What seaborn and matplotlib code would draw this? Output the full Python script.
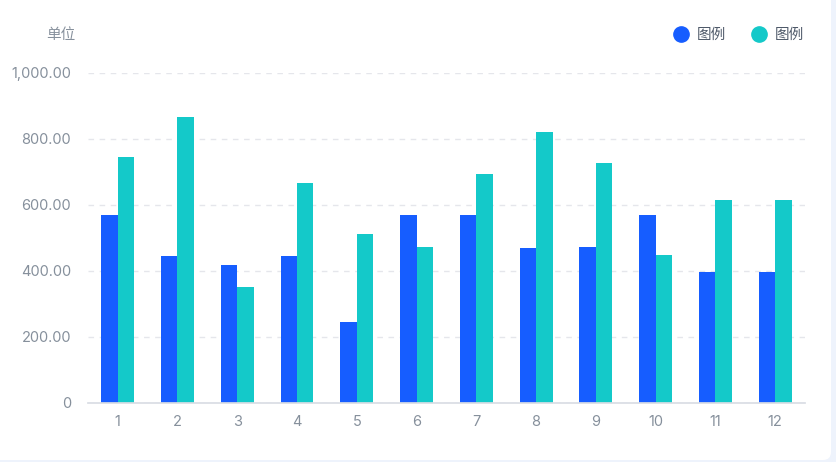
import pandas as pd
import seaborn as sns
import matplotlib.pyplot as plt
from matplotlib.lines import Line2D
from matplotlib.patches import FancyBboxPatch
from matplotlib.ticker import FuncFormatter

# Data
months = [str(i) for i in range(1, 13)]
series_a = [570, 445, 418, 445, 245, 570, 570, 468, 472, 570, 398, 398]
series_b = [745, 866, 350, 668, 512, 471, 694, 820, 726, 447, 616, 616]
legend_labels = ["图例", "图例"]
unit_label = "单位"

df = pd.DataFrame({
    "month": months * 2,
    "value": series_a + series_b,
    "series": ["a"] * 12 + ["b"] * 12,
})

sns.set_theme(style="white")
plt.rcParams["font.family"] = ["Inter", "Noto Sans CJK SC", "DejaVu Sans"]

blue = "#165DFF"
teal = "#14C9C9"
grey = "#86909C"

fig = plt.figure(figsize=(8.36, 4.62), dpi=100)
fig.patch.set_facecolor("#EEF3FC")
# white card behind the chart
card = FancyBboxPatch((-20, 2), 851, 480, boxstyle="round,pad=0,rounding_size=8",
                      transform=None, facecolor="white", edgecolor="none", zorder=-5)
fig.patches.append(card)

ax = fig.add_axes([0.105, 0.128, 0.858, 0.714])
ax.set_facecolor("none")
sns.barplot(data=df, x="month", y="value", hue="series", palette=[blue, teal],
            width=0.55, gap=0, saturation=1, linewidth=0, ax=ax, legend=False)

ax.set_ylim(0, 1000)
ax.set_yticks([0, 200, 400, 600, 800, 1000])
ax.yaxis.set_major_formatter(FuncFormatter(lambda v, p: "0" if v == 0 else f"{v:,.2f}"))
ax.set_xlabel("")
ax.set_ylabel("")
ax.tick_params(axis="both", length=0, colors=grey, labelsize=10.5)
ax.tick_params(axis="y", pad=12)
ax.tick_params(axis="x", pad=9)
ax.grid(axis="y", color="#E5E6EB", linestyle=(0, (4, 4)), linewidth=1)
ax.set_axisbelow(True)
for s in ["top", "right", "left"]:
    ax.spines[s].set_visible(False)
ax.spines["bottom"].set_color("#D9DDE4")

fig.text(0.09, 0.925, unit_label, color=grey, fontsize=10.5, ha="right", va="center")

handles = [Line2D([], [], marker="o", linestyle="", markersize=11, color=c) for c in [blue, teal]]
fig.legend(handles, legend_labels, loc="center right", bbox_to_anchor=(0.977, 0.925),
           ncol=2, frameon=False, fontsize=10.5, handletextpad=0.05, columnspacing=1.3,
           labelcolor="#4E5969")

plt.savefig("out.png", dpi=100, facecolor=fig.get_facecolor())
